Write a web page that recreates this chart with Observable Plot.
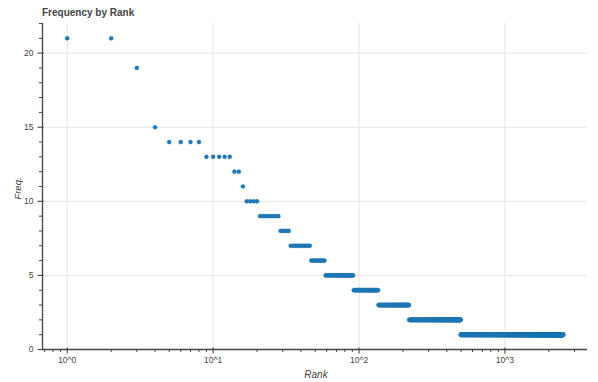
<!DOCTYPE html>
<html>
<head>
<meta charset="utf-8">
<script src="https://cdn.jsdelivr.net/npm/d3@7"></script>
<script src="https://cdn.jsdelivr.net/npm/@observablehq/plot@0.6"></script>
<style>
  html, body { margin: 0; padding: 0; background: #fff; }
  body { width: 598px; height: 382px; overflow: hidden; font-family: "Liberation Sans", Arial, Helvetica, sans-serif; }
  #title { height: 20px; box-sizing: border-box; padding-left: 42px; padding-top: 7.5px; font-size: 10px; line-height: 10px; font-weight: bold; color: #444; }
  svg { display: block; }
</style>
</head>
<body>
<div id="title">Frequency by Rank</div>
<div id="chart"></div>
<script>
// Frequency levels (sorted by rank) and how many consecutive ranks share each level
const freqLevels = [21, 19, 15, 14, 13, 12, 11, 10, 9, 8, 7, 6, 5, 4, 3, 2, 1];
const rankCounts = [2, 1, 1, 4, 5, 2, 1, 4, 8, 5, 13, 12, 33, 44, 85, 277, 2003];

// Axis ticks
const majorXTicks = [1, 10, 100, 1000];
const minorXTicks = [0.7, 0.8, 0.9, 2, 3, 4, 5, 6, 7, 8, 9, 20, 30, 40, 50, 60, 70, 80, 90,
                     200, 300, 400, 500, 600, 700, 800, 900, 2000, 3000];
const majorYTicks = [0, 5, 10, 15, 20];
const minorYTicks = [1, 2, 3, 4, 6, 7, 8, 9, 11, 12, 13, 14, 16, 17, 18, 19, 21, 22];

// decode the run-length table into one row per rank
const data = [];
let rank = 1;
freqLevels.forEach((f, i) => {
  for (let k = 0; k < rankCounts[i]; k++) data.push({rank: rank++, freq: f});
});

const xDomain = [0.677, 3680];
const axisColor = "#444";

const chart = Plot.plot({
  width: 598,
  height: 362,
  marginTop: 3,
  marginLeft: 42,
  marginRight: 11,
  marginBottom: 33,
  style: {fontFamily: '"Liberation Sans", Arial, Helvetica, sans-serif', fontSize: "8.5px", color: "#444", background: "#fff"},
  x: {type: "log", domain: xDomain, label: null},
  y: {domain: [0, 22], label: null},
  marks: [
    Plot.gridX(majorXTicks, {stroke: "#e5e5e5", strokeOpacity: 1, strokeWidth: 1}),
    Plot.gridY(majorYTicks, {stroke: "#e5e5e5", strokeOpacity: 1, strokeWidth: 1}),
    Plot.dot(data, {x: "rank", y: "freq", r: 2.1, fill: "#1f77b4", stroke: "#1f77b4", strokeWidth: 0.3}),
    // axis lines
    Plot.ruleY([0], {stroke: axisColor, strokeWidth: 1.3}),
    Plot.ruleX([xDomain[0]], {stroke: axisColor, strokeWidth: 1.3}),
    // x axis: major ticks + labels, minor ticks
    Plot.axisX(majorXTicks, {anchor: "bottom", tickSize: 6, dy: -1.5, tickFormat: () => "", label: null, stroke: axisColor, strokeWidth: 1.1}),
    Plot.axisX(majorXTicks, {anchor: "bottom", tickSize: 0, tickPadding: 7, label: null,
      tickFormat: d => "10^" + Math.round(Math.log10(d)), fill: "#444", fontSize: 8.5}),
    Plot.axisX(minorXTicks, {anchor: "bottom", tickSize: 3, tickFormat: () => "", label: null, stroke: axisColor, strokeWidth: 1}),
    // y axis: major ticks + labels, minor ticks
    Plot.axisY(majorYTicks, {anchor: "left", tickSize: 6, dx: 1.5, tickFormat: () => "", label: null, stroke: axisColor, strokeWidth: 1.1}),
    Plot.axisY(majorYTicks, {anchor: "left", tickSize: 0, tickPadding: 9, label: null, fill: "#444", fontSize: 8.5}),
    Plot.axisY(minorYTicks, {anchor: "left", tickSize: 3, tickFormat: () => "", label: null, stroke: axisColor, strokeWidth: 1}),
    // axis titles
    Plot.text(["Freq."], {frameAnchor: "left", text: d => d, dx: -25, dy: 2, rotate: -90, textAnchor: "middle", lineAnchor: "middle",
      fontStyle: "italic", fontSize: 9.5, fill: "#444"}),
    Plot.text(["Rank"], {frameAnchor: "bottom", text: d => d, dy: 25, dx: 1, textAnchor: "middle", lineAnchor: "middle",
      fontStyle: "italic", fontSize: 10, fill: "#444"})
  ]
});
document.getElementById("chart").appendChild(chart);
</script>
</body>
</html>
